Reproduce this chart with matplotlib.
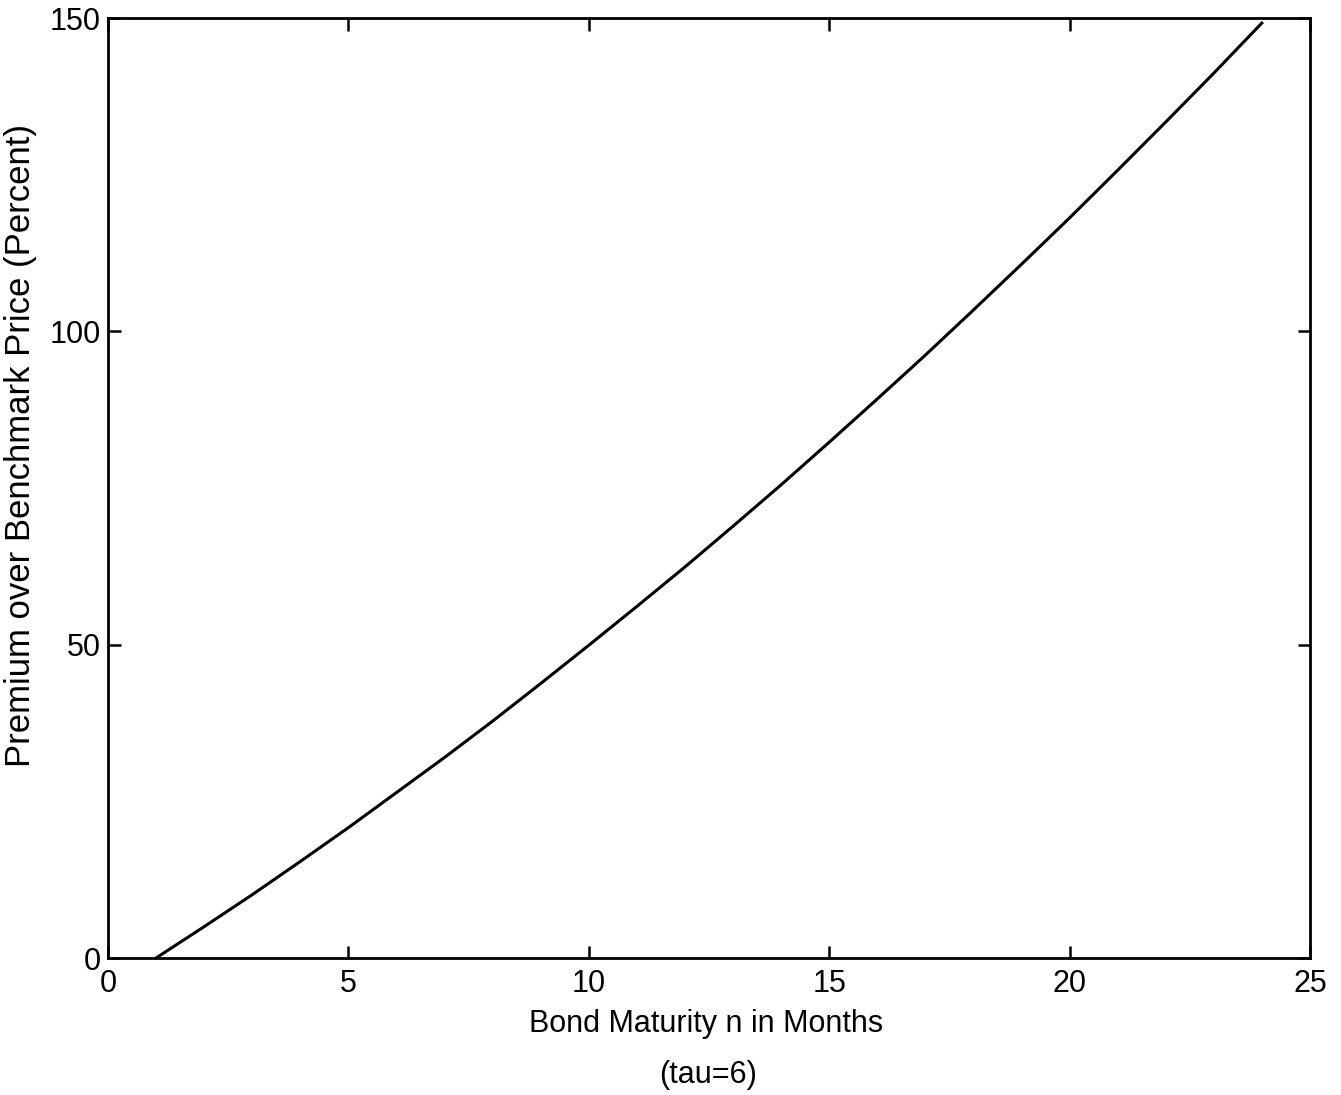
import matplotlib.pyplot as plt

plt.rcParams['font.family'] = ['Liberation Sans', 'DejaVu Sans']

# Bond maturity (months) and premium over benchmark price (percent)
months = list(range(1, 25))
premium = [0.0, 5.0, 10.1, 15.4, 20.8, 26.4, 32.0, 37.8, 43.8, 49.9,
           56.1, 62.4, 68.9, 75.5, 82.3, 89.2, 96.2, 103.4, 110.7, 118.1,
           125.7, 133.4, 141.2, 149.2]

x_ticks = [0, 5, 10, 15, 20, 25]
y_ticks = [0, 50, 100, 150]

fig = plt.figure(figsize=(13.41, 10.95), dpi=100)
ax = fig.add_axes([0.0805, 0.1251, 0.8963, 0.8584])

ax.plot(months, premium, color='black', linewidth=2.2)

ax.set_xlim(0, 25)
ax.set_ylim(0, 150)
ax.set_xticks(x_ticks)
ax.set_yticks(y_ticks)
ax.tick_params(direction='in', length=9, width=1.8, labelsize=22,
               top=True, right=True)
ax.tick_params(axis='x', pad=8)
ax.tick_params(axis='y', pad=5)
for s in ax.spines.values():
    s.set_linewidth(2.0)

ax.set_xlabel('Bond Maturity n in Months', fontsize=22, va='baseline')
ax.xaxis.set_label_coords(0.498, -0.0787)
ax.set_ylabel('Premium over Benchmark Price (Percent)', fontsize=25,
              va='center')
ax.yaxis.set_label_coords(-0.0724, 0.5457)
fig.text(0.528, 0.018, '(tau=6)', fontsize=22, ha='center', va='center')

fig.savefig('out.png', dpi=100)
